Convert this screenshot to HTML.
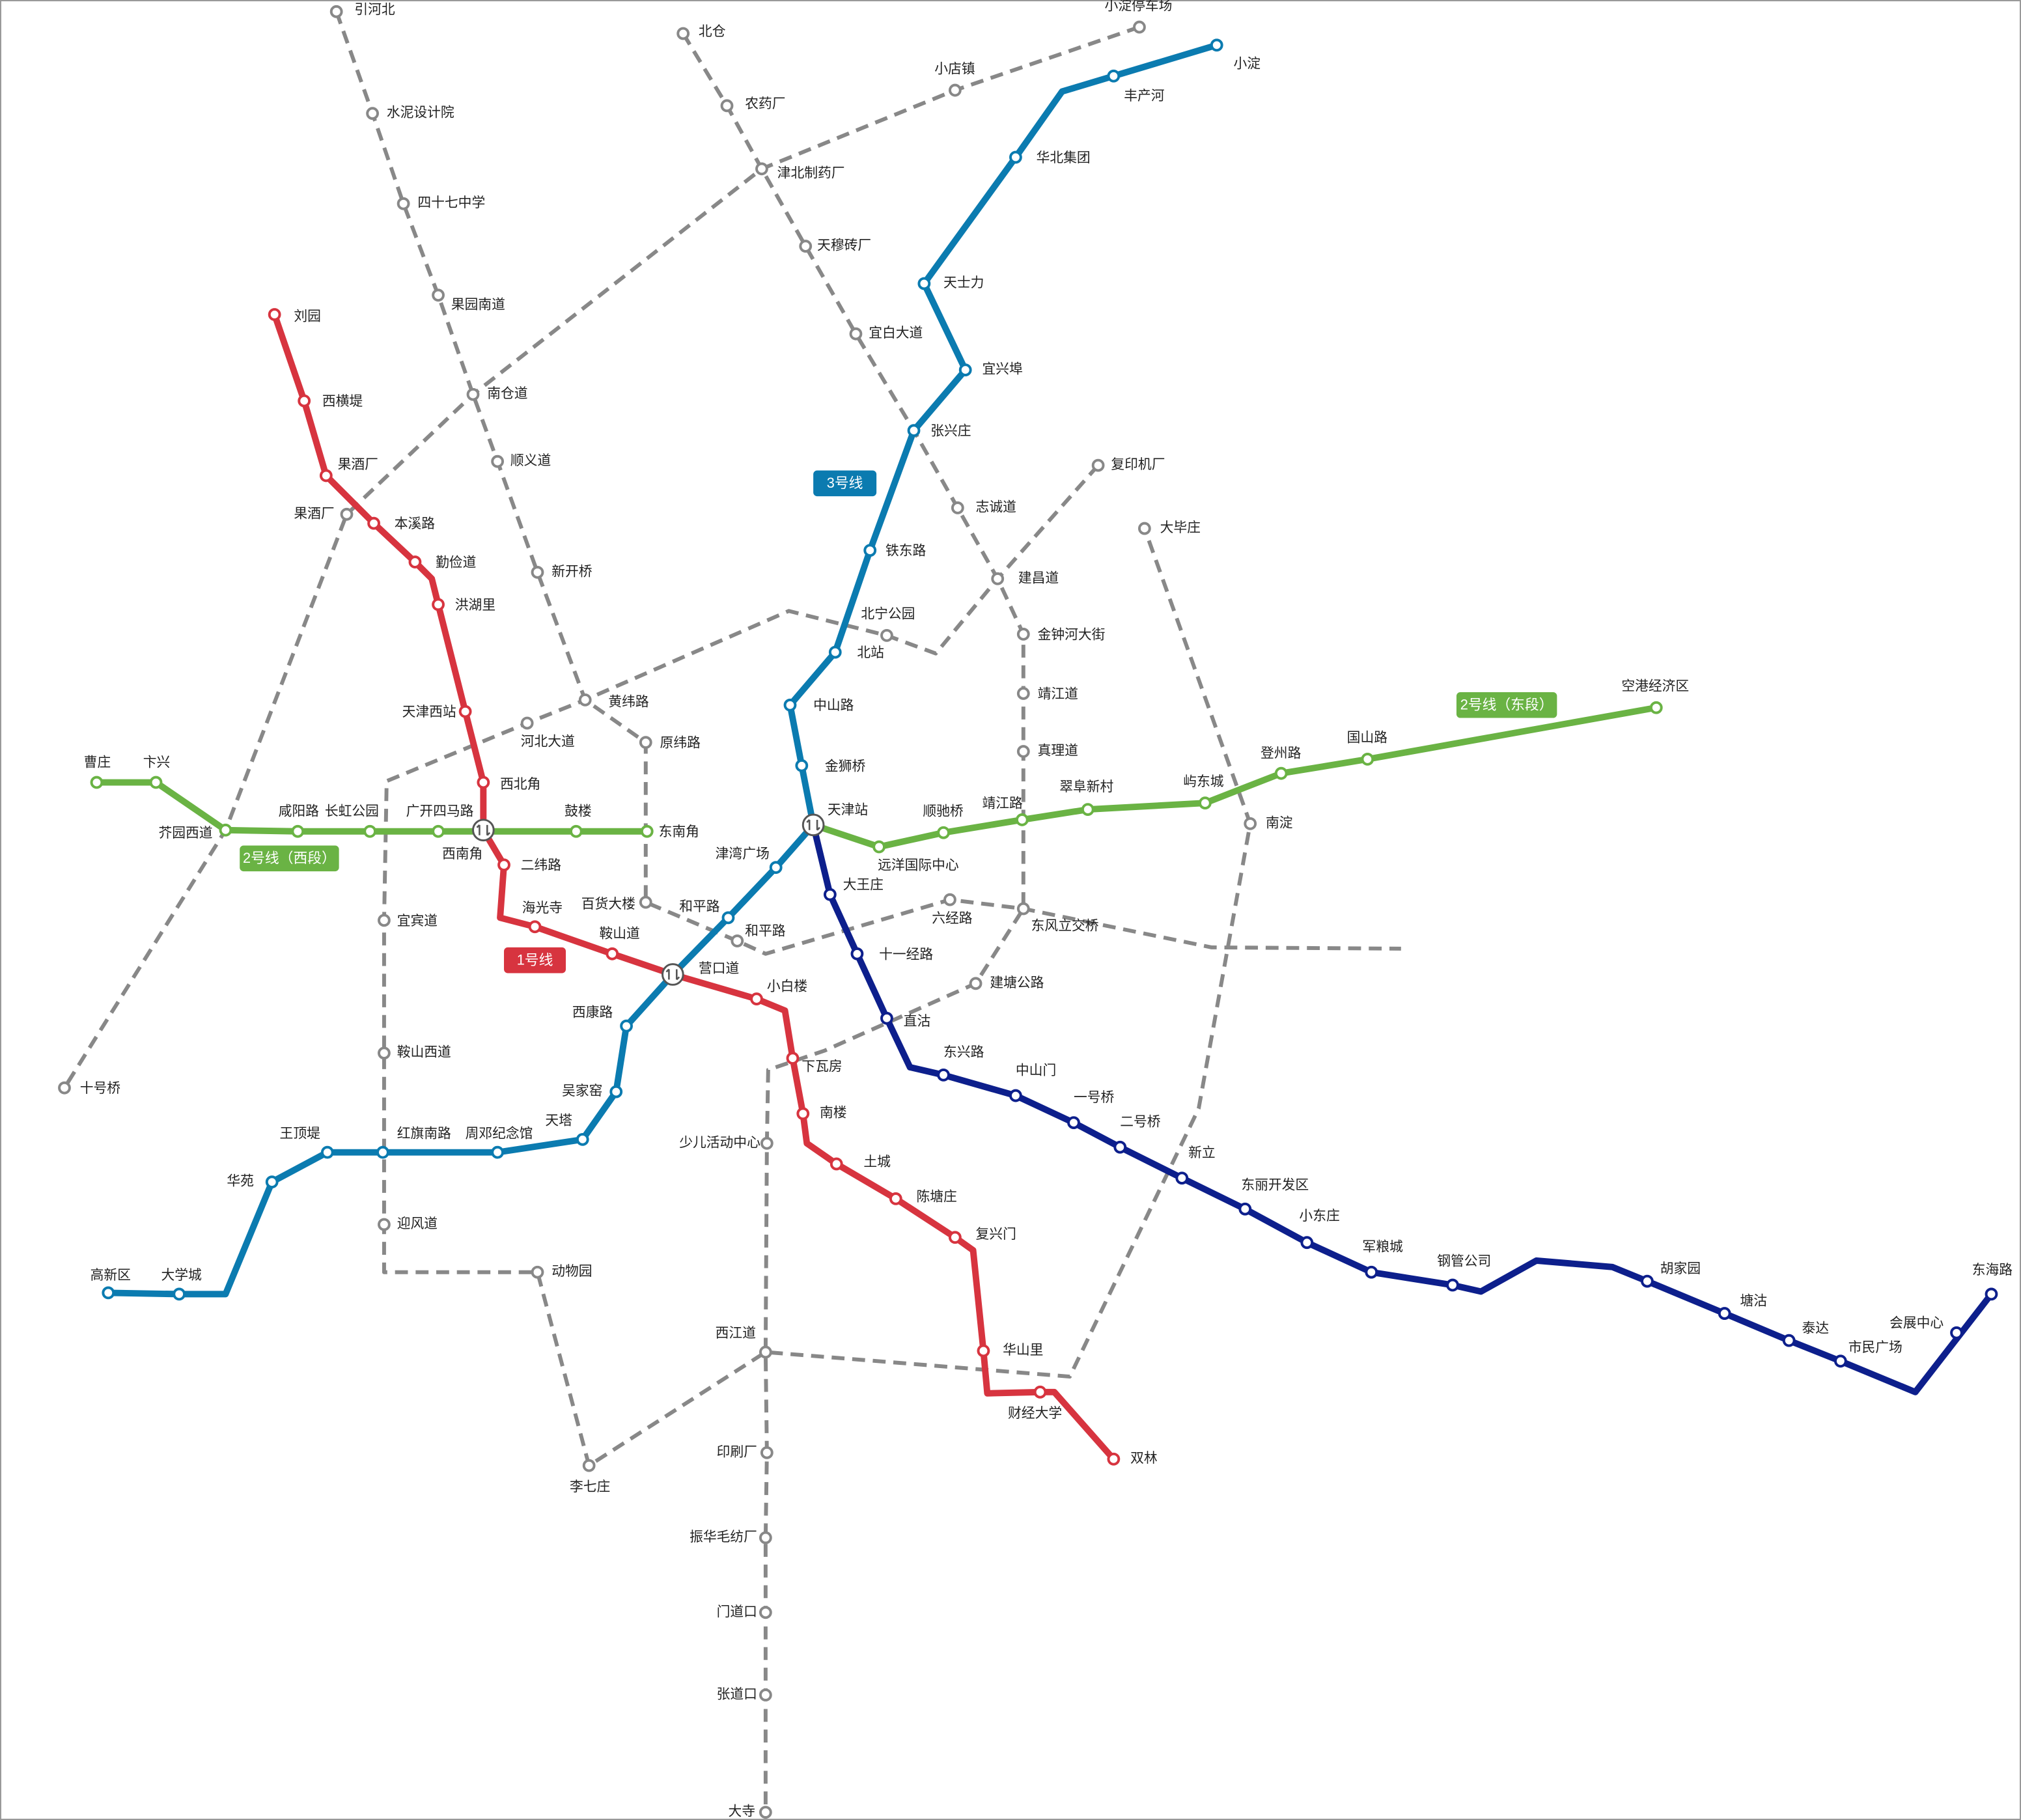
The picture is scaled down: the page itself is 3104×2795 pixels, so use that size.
<!DOCTYPE html>
<html><head><meta charset="utf-8"><style>
html,body{margin:0;padding:0;background:#fff;}
svg{display:block}
text{font-family:"Liberation Sans","Noto Sans CJK SC",sans-serif;font-size:10.5px;fill:#222;dominant-baseline:middle}
.b text{fill:#fff;font-size:11px}
</style></head><body>
<svg width="3104" height="2795" viewBox="0 0 1568 1412" preserveAspectRatio="none" xmlns="http://www.w3.org/2000/svg">
<rect x="0.5" y="0.5" width="1567" height="1411" fill="#fff" stroke="#999" stroke-width="1"/>
<g fill="none" stroke="#888" stroke-width="3" stroke-dasharray="10,6" stroke-linejoin="round">
<polyline points="261,9 289,88 313,158 340,229 367,306 386,358 417,444 454,543 501,576 501,700 572,730 594,740 737,698 794,705 940,735 1087,736"/>
<polyline points="530,26 564,82 591,131 625,191 664,259 709,334 743,394 774,449 794,492 794,538 794,583 794,705 757,763 640,815 596,830 595,887 594,1049 595,1127 594,1193 594,1251 594,1315 594,1406"/>
<polyline points="884,21 741,70 591,131 367,306 269,399 175,644 50,844"/>
<polyline points="852,361 774,449 726,507 688,493 612,474 454,543 409,561 300,606 298,714 298,817 298,894 298,950 298,987 417,987 457,1137 594,1049 830,1068 930,860 970,639 888,410"/>
</g>
<g fill="none" stroke-width="5" stroke-linejoin="round" stroke-linecap="round">
<polyline stroke="#d7343f" points="213,244 236,311 253,369 290,406 322,436 335,449 340,469 361,552 375,607 375,644 391,671 388,712 415,719 475,740 522,756 587,775 609,784 615,821 623,864 626,887 649,903 695,930 741,960 755,970 763,1048 766,1081 807,1080 818,1080 864,1132"/>
<polyline stroke="#6ab344" points="75,607 121,607 175,644 231,645 287,645 340,645 375,645 447,645 502,645"/>
<polyline stroke="#6ab344" points="631,640 682,657 732,646 793,636 844,628 935,623 994,600 1061,589 1285,549"/>
<polyline stroke="#0b7bb0" points="944,35 864,59 824,71 788,122 717,220 749,287 709,334 675,427 648,506 613,547 622,594 631,640 602,673 565,712 522,756 486,796 478,847 452,884 386,894 297,894 254,894 211,917 175,1004 139,1004 84,1003"/>
<polyline stroke="#0d1f8c" points="631,640 644,694 665,740 688,790 706,828 732,834 788,850 833,871 869,890 917,914 966,938 1014,964 1064,987 1127,997 1149,1002 1192,978 1251,983 1278,994 1338,1019 1388,1040 1428,1056 1486,1080 1545,1004"/>
</g>
<g fill="#fff" stroke-width="2">
<g stroke="#888">
<circle cx="261" cy="9" r="4"/><circle cx="289" cy="88" r="4"/><circle cx="313" cy="158" r="4"/><circle cx="340" cy="229" r="4"/><circle cx="367" cy="306" r="4"/><circle cx="386" cy="358" r="4"/><circle cx="417" cy="444" r="4"/><circle cx="454" cy="543" r="4"/><circle cx="501" cy="576" r="4"/><circle cx="501" cy="700" r="4"/><circle cx="572" cy="730" r="4"/><circle cx="737" cy="698" r="4"/><circle cx="794" cy="705" r="4"/>
<circle cx="530" cy="26" r="4"/><circle cx="564" cy="82" r="4"/><circle cx="591" cy="131" r="4"/><circle cx="625" cy="191" r="4"/><circle cx="664" cy="259" r="4"/><circle cx="743" cy="394" r="4"/><circle cx="774" cy="449" r="4"/><circle cx="794" cy="492" r="4"/><circle cx="794" cy="538" r="4"/><circle cx="794" cy="583" r="4"/><circle cx="757" cy="763" r="4"/><circle cx="595" cy="887" r="4"/><circle cx="594" cy="1049" r="4"/><circle cx="595" cy="1127" r="4"/><circle cx="594" cy="1193" r="4"/><circle cx="594" cy="1251" r="4"/><circle cx="594" cy="1315" r="4"/><circle cx="594" cy="1406" r="4"/>
<circle cx="884" cy="21" r="4"/><circle cx="741" cy="70" r="4"/><circle cx="269" cy="399" r="4"/><circle cx="50" cy="844" r="4"/>
<circle cx="852" cy="361" r="4"/><circle cx="688" cy="493" r="4"/><circle cx="409" cy="561" r="4"/><circle cx="298" cy="714" r="4"/><circle cx="298" cy="817" r="4"/><circle cx="298" cy="950" r="4"/><circle cx="417" cy="987" r="4"/><circle cx="457" cy="1137" r="4"/><circle cx="970" cy="639" r="4"/><circle cx="888" cy="410" r="4"/>
</g>
<g stroke="#d7343f">
<circle cx="213" cy="244" r="4"/><circle cx="236" cy="311" r="4"/><circle cx="253" cy="369" r="4"/><circle cx="290" cy="406" r="4"/><circle cx="322" cy="436" r="4"/><circle cx="340" cy="469" r="4"/><circle cx="361" cy="552" r="4"/><circle cx="375" cy="607" r="4"/><circle cx="391" cy="671" r="4"/><circle cx="415" cy="719" r="4"/><circle cx="475" cy="740" r="4"/><circle cx="587" cy="775" r="4"/><circle cx="615" cy="821" r="4"/><circle cx="623" cy="864" r="4"/><circle cx="649" cy="903" r="4"/><circle cx="695" cy="930" r="4"/><circle cx="741" cy="960" r="4"/><circle cx="763" cy="1048" r="4"/><circle cx="807" cy="1080" r="4"/><circle cx="864" cy="1132" r="4"/>
</g>
<g stroke="#6ab344">
<circle cx="75" cy="607" r="4"/><circle cx="121" cy="607" r="4"/><circle cx="175" cy="644" r="4"/><circle cx="231" cy="645" r="4"/><circle cx="287" cy="645" r="4"/><circle cx="340" cy="645" r="4"/><circle cx="447" cy="645" r="4"/><circle cx="502" cy="645" r="4"/><circle cx="682" cy="657" r="4"/><circle cx="732" cy="646" r="4"/><circle cx="793" cy="636" r="4"/><circle cx="844" cy="628" r="4"/><circle cx="935" cy="623" r="4"/><circle cx="994" cy="600" r="4"/><circle cx="1061" cy="589" r="4"/><circle cx="1285" cy="549" r="4"/>
</g>
<g stroke="#0b7bb0">
<circle cx="944" cy="35" r="4"/><circle cx="864" cy="59" r="4"/><circle cx="788" cy="122" r="4"/><circle cx="717" cy="220" r="4"/><circle cx="749" cy="287" r="4"/><circle cx="709" cy="334" r="4"/><circle cx="675" cy="427" r="4"/><circle cx="648" cy="506" r="4"/><circle cx="613" cy="547" r="4"/><circle cx="622" cy="594" r="4"/><circle cx="602" cy="673" r="4"/><circle cx="565" cy="712" r="4"/><circle cx="486" cy="796" r="4"/><circle cx="478" cy="847" r="4"/><circle cx="452" cy="884" r="4"/><circle cx="386" cy="894" r="4"/><circle cx="297" cy="894" r="4"/><circle cx="254" cy="894" r="4"/><circle cx="211" cy="917" r="4"/><circle cx="139" cy="1004" r="4"/><circle cx="84" cy="1003" r="4"/>
</g>
<g stroke="#0d1f8c">
<circle cx="644" cy="694" r="4"/><circle cx="665" cy="740" r="4"/><circle cx="688" cy="790" r="4"/><circle cx="732" cy="834" r="4"/><circle cx="788" cy="850" r="4"/><circle cx="833" cy="871" r="4"/><circle cx="869" cy="890" r="4"/><circle cx="917" cy="914" r="4"/><circle cx="966" cy="938" r="4"/><circle cx="1014" cy="964" r="4"/><circle cx="1064" cy="987" r="4"/><circle cx="1127" cy="997" r="4"/><circle cx="1278" cy="994" r="4"/><circle cx="1338" cy="1019" r="4"/><circle cx="1388" cy="1040" r="4"/><circle cx="1428" cy="1056" r="4"/><circle cx="1518" cy="1034" r="4"/><circle cx="1545" cy="1004" r="4"/>
</g>
<g stroke="#555" stroke-width="1.5">
<circle cx="375" cy="644" r="8"/><circle cx="631" cy="640" r="8"/><circle cx="522" cy="756" r="8"/>
</g>
</g>
<g fill="none" stroke="#555" stroke-width="1.3">
<path d="M372,640 v8 M378,640 v8 M370,642 l2,-2 M380,646 l-2,2"/>
<path d="M628,636 v8 M634,636 v8 M626,638 l2,-2 M636,642 l-2,2"/>
<path d="M519,752 v8 M525,752 v8 M517,754 l2,-2 M527,758 l-2,2"/>
</g>
<g class="b">
<rect x="631" y="365" width="49" height="20" rx="3" fill="#0b7bb0"/><text x="655.5" y="375.5" text-anchor="middle">3号线</text>
<rect x="186" y="656" width="77" height="20" rx="3" fill="#6ab344"/><text x="224.5" y="666.5" text-anchor="middle">2号线（西段）</text>
<rect x="391" y="735" width="48" height="20" rx="3" fill="#d7343f"/><text x="415" y="745.5" text-anchor="middle">1号线</text>
<rect x="1130" y="537" width="78" height="20" rx="3" fill="#6ab344"/><text x="1169" y="547.5" text-anchor="middle">2号线（东段）</text>
</g>
<g>
<text x="275" y="8">引河北</text><text x="300" y="88">水泥设计院</text><text x="324" y="158">四十七中学</text><text x="350" y="237">果园南道</text><text x="378" y="306">南仓道</text><text x="396" y="358">顺义道</text><text x="428" y="444">新开桥</text><text x="472" y="545">黄纬路</text><text x="512" y="577">原纬路</text><text x="404" y="576">河北大道</text><text x="542" y="25">北仓</text><text x="578" y="81">农药厂</text><text x="603" y="135">津北制药厂</text><text x="634" y="191">天穆砖厂</text><text x="674" y="259">宜白大道</text><text x="757" y="394">志诚道</text><text x="790" y="449">建昌道</text><text x="805" y="493">金钟河大街</text><text x="805" y="539">靖江道</text><text x="805" y="583">真理道</text><text x="862" y="361">复印机厂</text><text x="900" y="410">大毕庄</text><text x="982" y="639">南淀</text><text x="725" y="54">小店镇</text><text x="857" y="5">小淀停车场</text><text x="668" y="477">北宁公园</text><text x="228" y="399">果酒厂</text><text x="62" y="845">十号桥</text><text x="308" y="715">宜宾道</text><text x="308" y="817">鞍山西道</text><text x="308" y="950">迎风道</text><text x="428" y="987">动物园</text><text x="442" y="1154">李七庄</text><text x="451" y="702">百货大楼</text><text x="578" y="723">和平路</text><text x="723" y="713">六经路</text><text x="800" y="719">东风立交桥</text><text x="768" y="763">建塘公路</text><text x="527" y="887">少儿活动中心</text><text x="555" y="1035">西江道</text><text x="556" y="1127">印刷厂</text><text x="535" y="1193">振华毛纺厂</text><text x="556" y="1251">门道口</text><text x="556" y="1315">张道口</text><text x="565" y="1406">大寺</text>
<text x="228" y="246">刘园</text><text x="250" y="312">西横堤</text><text x="262" y="361">果酒厂</text><text x="306" y="407">本溪路</text><text x="338" y="437">勤俭道</text><text x="353" y="470">洪湖里</text><text x="312" y="553">天津西站</text><text x="388" y="609">西北角</text><text x="343" y="663">西南角</text><text x="404" y="672">二纬路</text><text x="405" y="705">海光寺</text><text x="465" y="725">鞍山道</text><text x="542" y="752">营口道</text><text x="595" y="766">小白楼</text><text x="622" y="828">下瓦房</text><text x="636" y="864">南楼</text><text x="670" y="902">土城</text><text x="711" y="929">陈塘庄</text><text x="757" y="958">复兴门</text><text x="778" y="1048">华山里</text><text x="782" y="1097">财经大学</text><text x="877" y="1132">双林</text>
<text x="65" y="592">曹庄</text><text x="111" y="592">卞兴</text><text x="123" y="647">芥园西道</text><text x="216" y="630">咸阳路</text><text x="252" y="630">长虹公园</text><text x="315" y="630">广开四马路</text><text x="438" y="630">鼓楼</text><text x="511" y="646">东南角</text><text x="642" y="629">天津站</text><text x="681" y="672">远洋国际中心</text><text x="716" y="630">顺驰桥</text><text x="762" y="624">靖江路</text><text x="822" y="611">翠阜新村</text><text x="918" y="607">屿东城</text><text x="978" y="585">登州路</text><text x="1045" y="573">国山路</text><text x="1258" y="533">空港经济区</text>
<text x="957" y="50">小淀</text><text x="872" y="75">丰产河</text><text x="804" y="123">华北集团</text><text x="732" y="220">天士力</text><text x="762" y="287">宜兴埠</text><text x="722" y="335">张兴庄</text><text x="687" y="428">铁东路</text><text x="665" y="507">北站</text><text x="631" y="548">中山路</text><text x="640" y="595">金狮桥</text><text x="555" y="663">津湾广场</text><text x="527" y="704">和平路</text><text x="444" y="786">西康路</text><text x="436" y="847">吴家窑</text><text x="423" y="870">天塔</text><text x="361" y="880">周邓纪念馆</text><text x="308" y="880">红旗南路</text><text x="217" y="880">王顶堤</text><text x="176" y="917">华苑</text><text x="125" y="990">大学城</text><text x="70" y="990">高新区</text>
<text x="654" y="687">大王庄</text><text x="682" y="741">十一经路</text><text x="701" y="793">直沽</text><text x="732" y="817">东兴路</text><text x="788" y="831">中山门</text><text x="833" y="852">一号桥</text><text x="869" y="871">二号桥</text><text x="922" y="895">新立</text><text x="963" y="920">东丽开发区</text><text x="1008" y="944">小东庄</text><text x="1057" y="968">军粮城</text><text x="1115" y="979">钢管公司</text><text x="1288" y="985">胡家园</text><text x="1350" y="1010">塘沽</text><text x="1398" y="1031">泰达</text><text x="1434" y="1046">市民广场</text><text x="1466" y="1027">会展中心</text><text x="1530" y="986">东海路</text>
</g>
</svg>
</body></html>
